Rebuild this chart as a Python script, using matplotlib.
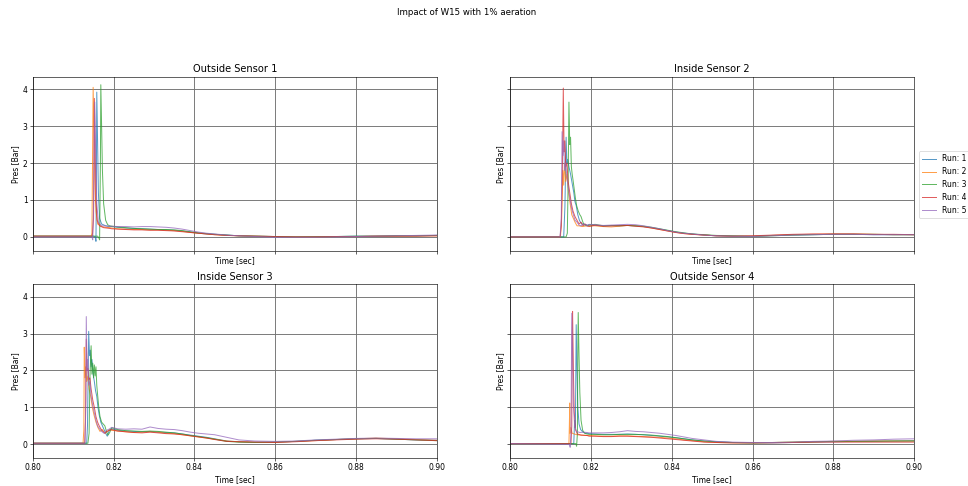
import matplotlib
matplotlib.use("Agg")
import matplotlib.pyplot as plt

runs = [1, 2, 3, 4, 5]
run_colors = ["tab:blue", "tab:orange", "tab:green", "tab:red", "tab:purple"]
sensor_titles = ["Outside Sensor 1", "Inside Sensor 2", "Inside Sensor 3", "Outside Sensor 4"]
x_ticks = [0.80, 0.82, 0.84, 0.86, 0.88, 0.90]

# Common time stamps for the slow decay after the impact [sec]
time_tail = [0.8195, 0.821, 0.823, 0.825, 0.827, 0.829, 0.831, 0.833, 0.835, 0.837,
             0.839, 0.841, 0.843, 0.845, 0.848, 0.851, 0.855, 0.860, 0.865, 0.870,
             0.875, 0.880, 0.885, 0.890, 0.895, 0.900]

# ---- Outside Sensor 1 ----
s1_impact = {
    1: [(0.800, 0.02), (0.8150, 0.02), (0.8154, 0.0), (0.8156, -0.12), (0.8157, 1.5), (0.8158, 3.92),
        (0.8160, 2.6), (0.8162, 1.2), (0.8165, 0.5), (0.8170, 0.35), (0.8180, 0.30), (0.8188, 0.28)],
    2: [(0.800, 0.02), (0.8144, 0.02), (0.8146, 0.1), (0.8149, 4.05), (0.8151, 3.0), (0.8153, 1.6),
        (0.8156, 0.7), (0.8160, 0.35), (0.8170, 0.28), (0.8180, 0.26), (0.8190, 0.25)],
    3: [(0.800, 0.02), (0.8160, 0.02), (0.8163, -0.02), (0.8165, -0.08), (0.8167, 2.0), (0.8168, 4.12),
        (0.8170, 3.0), (0.8172, 1.8), (0.8175, 0.9), (0.8180, 0.45), (0.8185, 0.33), (0.8190, 0.30)],
    4: [(0.800, 0.02), (0.8147, 0.02), (0.8150, 0.5), (0.8152, 3.75), (0.8154, 2.5), (0.8156, 1.0),
        (0.8159, 0.45), (0.8165, 0.30), (0.8175, 0.25), (0.8190, 0.23)],
    5: [(0.800, 0.0), (0.8146, 0.0), (0.8148, -0.08), (0.8150, 0.8), (0.8153, 3.65), (0.8155, 2.4),
        (0.8158, 0.9), (0.8162, 0.4), (0.8170, 0.30), (0.8180, 0.30), (0.8190, 0.29)],
}
s1_tail = {
    1: [0.28, 0.26, 0.24, 0.23, 0.22, 0.21, 0.20, 0.19, 0.18, 0.16, 0.13, 0.10, 0.08, 0.07, 0.05,
        0.03, 0.02, 0.01, 0.00, 0.01, 0.01, 0.02, 0.02, 0.03, 0.03, 0.04],
    2: [0.24, 0.22, 0.21, 0.20, 0.20, 0.19, 0.19, 0.18, 0.17, 0.15, 0.12, 0.10, 0.08, 0.06, 0.04,
        0.03, 0.02, 0.01, 0.00, 0.00, 0.01, 0.01, 0.02, 0.02, 0.03, 0.03],
    3: [0.29, 0.27, 0.25, 0.23, 0.22, 0.21, 0.20, 0.20, 0.19, 0.17, 0.14, 0.11, 0.09, 0.07, 0.05,
        0.03, 0.02, 0.01, 0.00, 0.00, 0.01, 0.02, 0.02, 0.03, 0.03, 0.04],
    4: [0.22, 0.21, 0.20, 0.19, 0.19, 0.18, 0.18, 0.17, 0.16, 0.14, 0.12, 0.10, 0.08, 0.06, 0.04,
        0.03, 0.02, 0.01, 0.00, 0.00, 0.01, 0.01, 0.02, 0.02, 0.02, 0.03],
    5: [0.29, 0.28, 0.28, 0.27, 0.28, 0.28, 0.27, 0.26, 0.24, 0.21, 0.17, 0.13, 0.10, 0.08, 0.05,
        0.03, 0.01, -0.01, -0.01, -0.01, 0.00, 0.01, 0.02, 0.03, 0.04, 0.05],
}

# ---- Inside Sensor 2 ----
s2_impact = {
    1: [(0.800, 0.0), (0.8132, 0.0), (0.8135, 0.8), (0.8138, 2.70), (0.8140, 2.0), (0.8142, 2.1),
        (0.8145, 1.9), (0.8149, 1.7), (0.8153, 1.45), (0.8157, 1.2), (0.8160, 0.95), (0.8163, 0.85),
        (0.8167, 0.6), (0.8171, 0.45), (0.8176, 0.35), (0.8182, 0.35), (0.8190, 0.32)],
    2: [(0.800, 0.0), (0.8124, 0.0), (0.8127, 0.5), (0.8130, 1.8), (0.8132, 1.4), (0.8134, 2.0),
        (0.8137, 1.5), (0.8140, 1.7), (0.8144, 1.2), (0.8148, 0.9), (0.8152, 0.6), (0.8156, 0.5),
        (0.8160, 0.40), (0.8165, 0.30), (0.8170, 0.30), (0.8178, 0.28), (0.8190, 0.30)],
    3: [(0.800, 0.0), (0.8138, 0.0), (0.8141, 0.1), (0.8143, 1.5), (0.8145, 3.65), (0.8147, 2.5),
        (0.8149, 2.7), (0.8151, 1.9), (0.8153, 1.7), (0.8155, 1.55), (0.8158, 1.3), (0.8161, 1.05),
        (0.8164, 0.85), (0.8168, 0.7), (0.8172, 0.6), (0.8175, 0.55), (0.8178, 0.45), (0.8182, 0.33),
        (0.8190, 0.30)],
    4: [(0.800, 0.0), (0.8123, 0.0), (0.8126, 0.3), (0.8129, 2.0), (0.8131, 4.03), (0.8133, 2.3),
        (0.8135, 2.6), (0.8137, 1.9), (0.8140, 2.0), (0.8143, 1.5), (0.8147, 1.2), (0.8151, 0.9),
        (0.8155, 0.7), (0.8160, 0.55), (0.8165, 0.45), (0.8170, 0.35), (0.8175, 0.40), (0.8180, 0.30),
        (0.8185, 0.35), (0.8190, 0.30)],
    5: [(0.800, 0.0), (0.8123, 0.0), (0.8126, 0.5), (0.8128, 2.85), (0.8130, 2.2), (0.8132, 2.6),
        (0.8134, 1.8), (0.8137, 2.0), (0.8140, 1.6), (0.8144, 1.3), (0.8148, 1.0), (0.8152, 0.75),
        (0.8156, 0.6), (0.8160, 0.45), (0.8165, 0.40), (0.8170, 0.32), (0.8175, 0.30), (0.8182, 0.35),
        (0.8190, 0.30)],
}
s2_tail = {
    1: [0.33, 0.31, 0.30, 0.30, 0.31, 0.31, 0.30, 0.28, 0.25, 0.21, 0.17, 0.13, 0.10, 0.08, 0.05,
        0.03, 0.02, 0.02, 0.04, 0.05, 0.06, 0.07, 0.07, 0.06, 0.06, 0.06],
    2: [0.30, 0.30, 0.28, 0.27, 0.29, 0.31, 0.30, 0.28, 0.24, 0.20, 0.16, 0.12, 0.09, 0.07, 0.05,
        0.03, 0.02, 0.02, 0.04, 0.06, 0.07, 0.08, 0.08, 0.07, 0.06, 0.06],
    3: [0.32, 0.34, 0.30, 0.31, 0.30, 0.31, 0.30, 0.29, 0.26, 0.22, 0.18, 0.14, 0.11, 0.08, 0.06,
        0.04, 0.03, 0.01, 0.03, 0.05, 0.06, 0.07, 0.07, 0.07, 0.06, 0.06],
    4: [0.28, 0.32, 0.29, 0.30, 0.30, 0.31, 0.29, 0.27, 0.24, 0.20, 0.16, 0.12, 0.09, 0.07, 0.05,
        0.03, 0.02, 0.03, 0.05, 0.07, 0.08, 0.08, 0.08, 0.07, 0.07, 0.06],
    5: [0.34, 0.33, 0.31, 0.32, 0.33, 0.34, 0.33, 0.30, 0.26, 0.22, 0.17, 0.13, 0.10, 0.08, 0.05,
        0.03, 0.02, 0.01, 0.03, 0.05, 0.06, 0.07, 0.07, 0.06, 0.06, 0.06],
}

# ---- Inside Sensor 3 ----
s3_impact = {
    1: [(0.800, 0.03), (0.8133, 0.03), (0.8135, 0.5), (0.8137, 2.2), (0.8138, 3.06), (0.8140, 2.4),
        (0.8142, 2.55), (0.8144, 2.1), (0.8146, 2.3), (0.8149, 1.9), (0.8152, 1.7), (0.8155, 1.45),
        (0.8158, 1.3), (0.8161, 1.0), (0.8164, 0.8), (0.8168, 0.6), (0.8172, 0.5), (0.8176, 0.4),
        (0.8180, 0.3), (0.8184, 0.22), (0.8188, 0.35), (0.8190, 0.40)],
    2: [(0.800, 0.03), (0.8124, 0.03), (0.8126, 0.4), (0.8127, 2.63), (0.8129, 1.8), (0.8131, 2.1),
        (0.8133, 1.7), (0.8136, 1.85), (0.8139, 1.5), (0.8143, 1.3), (0.8147, 1.0), (0.8151, 0.8),
        (0.8156, 0.6), (0.8161, 0.45), (0.8166, 0.35), (0.8172, 0.40), (0.8178, 0.30), (0.8184, 0.35),
        (0.8190, 0.40)],
    3: [(0.800, 0.03), (0.8136, 0.03), (0.8139, 0.3), (0.8141, 1.8), (0.8144, 2.67), (0.8146, 1.9),
        (0.8148, 2.2), (0.8150, 1.8), (0.8152, 2.15), (0.8154, 1.85), (0.8156, 2.1), (0.8158, 1.6),
        (0.8160, 1.35), (0.8163, 1.0), (0.8166, 0.75), (0.8170, 0.6), (0.8174, 0.55), (0.8178, 0.5),
        (0.8182, 0.35), (0.8186, 0.25), (0.8190, 0.32)],
    4: [(0.800, 0.03), (0.8128, 0.03), (0.8130, 0.6), (0.8132, 2.85), (0.8134, 2.0), (0.8136, 2.05),
        (0.8138, 1.75), (0.8141, 1.8), (0.8144, 1.5), (0.8148, 1.2), (0.8152, 1.0), (0.8156, 0.75),
        (0.8160, 0.6), (0.8164, 0.5), (0.8168, 0.42), (0.8173, 0.35), (0.8178, 0.30), (0.8183, 0.35),
        (0.8190, 0.38)],
    5: [(0.800, 0.03), (0.8129, 0.03), (0.8131, 1.2), (0.8132, 3.46), (0.8134, 2.0), (0.8136, 2.3),
        (0.8138, 1.6), (0.8141, 1.7), (0.8144, 1.3), (0.8148, 1.05), (0.8152, 0.85), (0.8156, 0.65),
        (0.8160, 0.5), (0.8165, 0.42), (0.8170, 0.35), (0.8176, 0.30), (0.8182, 0.38), (0.8190, 0.42)],
}
s3_tail = {
    1: [0.42, 0.38, 0.36, 0.35, 0.34, 0.35, 0.33, 0.32, 0.31, 0.28, 0.25, 0.22, 0.19, 0.15, 0.09,
        0.07, 0.06, 0.06, 0.08, 0.11, 0.13, 0.15, 0.16, 0.14, 0.12, 0.11],
    2: [0.38, 0.36, 0.34, 0.32, 0.33, 0.34, 0.33, 0.30, 0.29, 0.26, 0.23, 0.20, 0.17, 0.14, 0.09,
        0.07, 0.06, 0.06, 0.08, 0.10, 0.13, 0.15, 0.17, 0.15, 0.13, 0.11],
    3: [0.45, 0.40, 0.37, 0.36, 0.35, 0.36, 0.35, 0.33, 0.31, 0.28, 0.24, 0.21, 0.18, 0.14, 0.08,
        0.06, 0.05, 0.06, 0.08, 0.11, 0.13, 0.15, 0.16, 0.14, 0.12, 0.10],
    4: [0.40, 0.36, 0.34, 0.32, 0.31, 0.33, 0.31, 0.29, 0.28, 0.26, 0.23, 0.20, 0.17, 0.13, 0.08,
        0.07, 0.06, 0.05, 0.07, 0.10, 0.12, 0.14, 0.15, 0.14, 0.12, 0.10],
    5: [0.46, 0.42, 0.41, 0.42, 0.41, 0.47, 0.43, 0.41, 0.40, 0.37, 0.33, 0.30, 0.28, 0.26, 0.19,
        0.12, 0.09, 0.08, 0.09, 0.12, 0.14, 0.16, 0.17, 0.16, 0.15, 0.15],
}

# ---- Outside Sensor 4 ----
s4_impact = {
    1: [(0.800, 0.02), (0.8157, 0.02), (0.8159, 0.65), (0.8161, 0.45), (0.8162, 1.8), (0.8163, 3.24),
        (0.8165, 2.0), (0.8167, 1.0), (0.8170, 0.55), (0.8174, 0.40), (0.8180, 0.33), (0.8186, 0.30),
        (0.8190, 0.30)],
    2: [(0.800, 0.02), (0.8145, 0.02), (0.8146, 0.5), (0.8147, 1.12), (0.8148, 0.3), (0.8150, 0.45),
        (0.8153, 0.30), (0.8158, 0.28), (0.8165, 0.26), (0.8175, 0.25), (0.8190, 0.24)],
    3: [(0.800, 0.02), (0.8162, 0.02), (0.8164, -0.05), (0.8166, 0.3), (0.8167, 2.5), (0.8168, 3.57),
        (0.8170, 2.4), (0.8172, 1.4), (0.8175, 0.65), (0.8179, 0.38), (0.8184, 0.30), (0.8190, 0.28)],
    4: [(0.800, 0.02), (0.8150, 0.02), (0.8152, 0.5), (0.8153, 3.0), (0.8154, 3.6), (0.8156, 2.0),
        (0.8158, 0.9), (0.8161, 0.4), (0.8166, 0.28), (0.8175, 0.25), (0.8190, 0.24)],
    5: [(0.800, 0.02), (0.8144, 0.0), (0.8147, -0.02), (0.8148, -0.08), (0.8150, 0.3), (0.8152, 3.55),
        (0.8154, 2.5), (0.8156, 1.1), (0.8159, 0.5), (0.8164, 0.35), (0.8172, 0.32), (0.8180, 0.33),
        (0.8190, 0.32)],
}
s4_tail = {
    1: [0.29, 0.28, 0.27, 0.27, 0.27, 0.28, 0.27, 0.26, 0.24, 0.22, 0.20, 0.18, 0.15, 0.12, 0.09,
        0.07, 0.05, 0.04, 0.04, 0.05, 0.06, 0.07, 0.08, 0.09, 0.09, 0.10],
    2: [0.24, 0.23, 0.22, 0.22, 0.23, 0.23, 0.22, 0.21, 0.20, 0.19, 0.17, 0.15, 0.12, 0.10, 0.07,
        0.05, 0.04, 0.04, 0.05, 0.06, 0.07, 0.08, 0.08, 0.09, 0.09, 0.09],
    3: [0.27, 0.27, 0.26, 0.26, 0.27, 0.27, 0.27, 0.26, 0.25, 0.23, 0.21, 0.18, 0.15, 0.12, 0.09,
        0.07, 0.05, 0.04, 0.05, 0.06, 0.07, 0.08, 0.08, 0.08, 0.09, 0.09],
    4: [0.22, 0.22, 0.21, 0.21, 0.22, 0.22, 0.21, 0.20, 0.19, 0.17, 0.15, 0.13, 0.11, 0.09, 0.06,
        0.05, 0.04, 0.04, 0.04, 0.05, 0.06, 0.06, 0.06, 0.06, 0.06, 0.06],
    5: [0.31, 0.31, 0.31, 0.32, 0.34, 0.37, 0.35, 0.34, 0.32, 0.30, 0.27, 0.24, 0.20, 0.16, 0.12,
        0.08, 0.06, 0.05, 0.05, 0.06, 0.08, 0.09, 0.11, 0.12, 0.14, 0.15],
}

sensor_impacts = [s1_impact, s2_impact, s3_impact, s4_impact]
sensor_tails = [s1_tail, s2_tail, s3_tail, s4_tail]

fig, axes = plt.subplots(2, 2, sharex=True, sharey=True, figsize=(968 / 55, 486 / 55), dpi=55)
fig.subplots_adjust(left=0.0341, right=0.9442, top=0.8416, bottom=0.0576,
                    wspace=0.183, hspace=0.195)
fig.suptitle("Impact of W15 with 1% aeration", x=0.4824, y=0.975, va="center", fontsize=11.3)

for ax, title, impact, tail in zip(axes.flat, sensor_titles, sensor_impacts, sensor_tails):
    for run, color in zip(runs, run_colors):
        t = [p[0] for p in impact[run]] + time_tail
        p = [p[1] for p in impact[run]] + tail[run]
        ax.plot(t, p, color=color, lw=1.3, alpha=0.75, label=f"Run: {run}")
    ax.set_title(title, fontsize=13)
    ax.set_xlabel("Time [sec]")
    ax.set_ylabel("Pres [Bar]")
    ax.grid(True, color="0.45", lw=1.2)
    ax.set_xlim(0.80, 0.90)
    ax.set_xticks(x_ticks)
    ax.set_ylim(-0.37, 4.33)
    ax.set_yticks([0, 1, 2, 3, 4])

axes[0, 1].legend(loc="center left", bbox_to_anchor=(1.012, 0.38), borderaxespad=0,
                  fontsize=10, handlelength=1.9, handletextpad=0.7, borderpad=0.4)

fig.savefig("out.png", dpi=55)
